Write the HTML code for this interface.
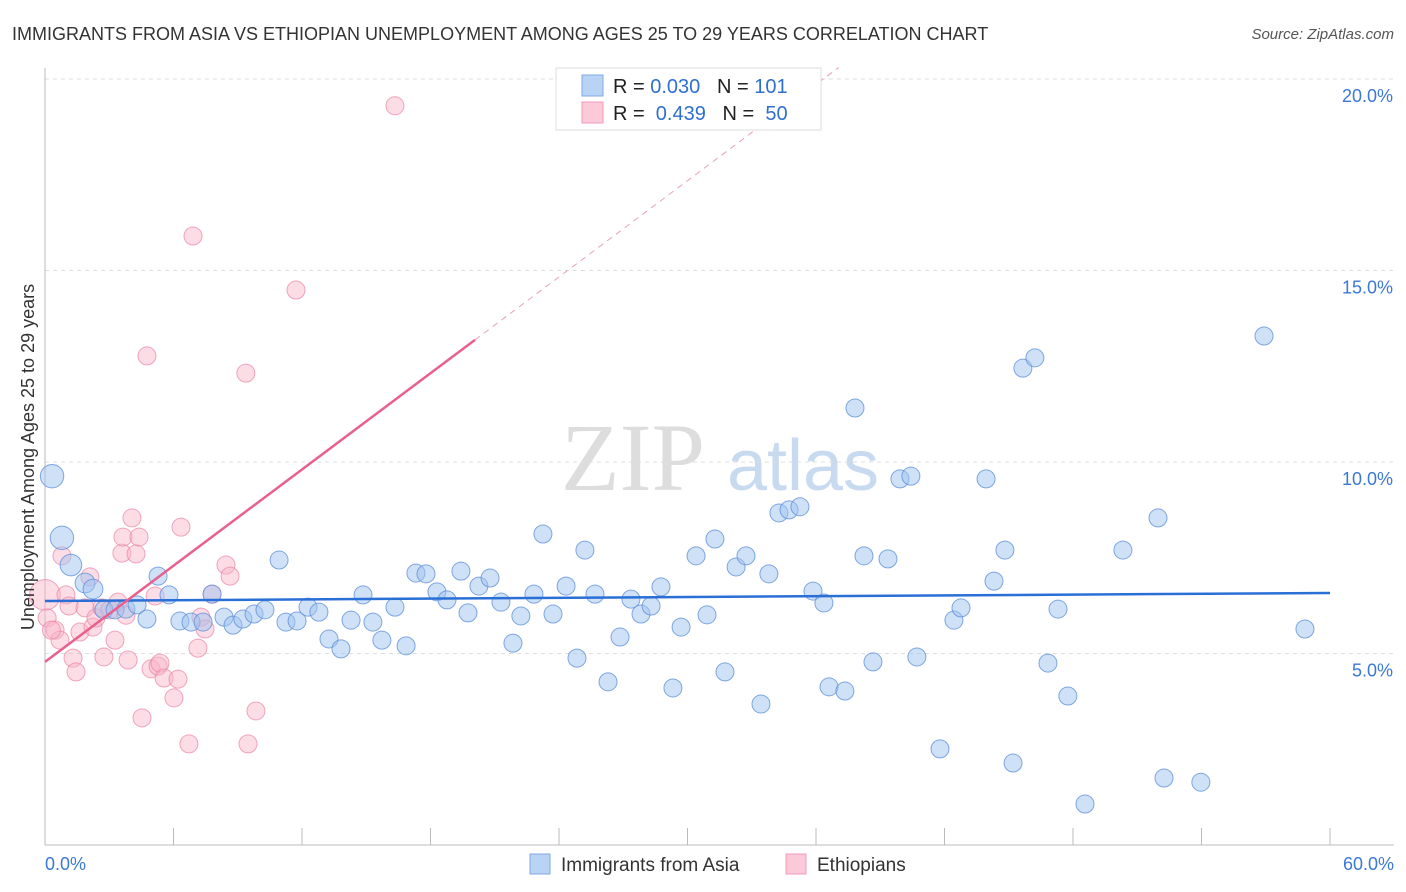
<!DOCTYPE html>
<html><head><meta charset="utf-8"><style>
body{margin:0;background:#fff;font-family:"Liberation Sans",sans-serif;}
svg{display:block}
</style></head><body>
<svg id="chart" width="1406" height="892">
<text x="12" y="40" font-size="18" fill="#333">IMMIGRANTS FROM ASIA VS ETHIOPIAN UNEMPLOYMENT AMONG AGES 25 TO 29 YEARS CORRELATION CHART</text>
<text x="1394" y="39" font-size="15" fill="#555" font-style="italic" text-anchor="end">Source: ZipAtlas.com</text>
<g>
<text x="633" y="490" font-size="96" font-family="Liberation Serif,serif" fill="#ddd" text-anchor="middle">ZIP</text>
<text x="803" y="490" font-size="72" fill="#c8daf0" text-anchor="middle">atlas</text>
</g>
<g id="grid"></g><g id="axes"></g><g id="pts"></g><g id="lines"></g>
<text transform="translate(34,457) rotate(-90)" font-size="18" fill="#333" text-anchor="middle">Unemployment Among Ages 25 to 29 years</text>
<g>
<rect x="556" y="68" width="265" height="62" fill="#fff" stroke="#ddd"/>
<rect x="582" y="75" width="21" height="21" fill="#b9d3f5" stroke="#7ea8e4"/>
<rect x="582" y="102" width="21" height="21" fill="#fcc9d8" stroke="#f09ab5"/>
<text x="613" y="93" font-size="20" fill="#222">R = <tspan fill="#2f6fd0">0.030</tspan>&#160;&#160;&#160;N = <tspan fill="#2f6fd0">101</tspan></text>
<text x="613" y="120" font-size="20" fill="#222">R = &#160;<tspan fill="#2f6fd0">0.439</tspan>&#160;&#160;&#160;N = &#160;<tspan fill="#2f6fd0">50</tspan></text>
</g>
<g>
<rect x="530" y="854" width="20" height="20" fill="#b9d3f5" stroke="#7ea8e4"/>
<text x="561" y="871" font-size="19" fill="#333">Immigrants from Asia</text>
<rect x="786" y="854" width="20" height="20" fill="#fcc9d8" stroke="#f09ab5"/>
<text x="817" y="871" font-size="19" fill="#333">Ethiopians</text>
</g>
</svg>
<script>
const xTicks=[0,6,12,18,24,30,36,42,48,54,60];
const yTicks=[5,10,15,20];
const yTickLabels=["5.0%","10.0%","15.0%","20.0%"];
const xEndLabels=["0.0%","60.0%"];
const asiaX=[0.33,0.79,1.21,1.87,2.24,2.75,3.27,3.78,4.30,4.76,5.28,5.79,6.30,6.82,7.38,7.80,8.36,8.78,9.24,9.76,10.27,10.93,11.25,11.77,12.28,12.79,13.26,13.82,14.29,14.85,15.31,15.73,16.34,16.86,17.32,17.79,18.30,18.77,19.42,19.75,20.26,20.78,21.29,21.85,22.22,22.83,23.25,23.72,24.33,24.84,25.21,25.68,26.29,26.85,27.36,27.83,28.30,28.76,29.32,29.70,30.40,30.91,31.28,31.75,32.27,32.73,33.43,33.80,34.27,34.74,35.25,35.86,36.37,36.61,37.35,37.82,38.24,38.66,39.36,39.92,40.43,40.71,41.79,42.44,42.77,43.94,44.31,44.82,45.20,45.66,46.22,46.83,47.30,47.76,48.56,50.33,51.97,52.25,53.97,56.92,58.83];
const asiaY=[9.63,8.02,7.31,6.84,6.68,6.14,6.14,6.16,6.27,5.90,7.02,6.53,5.85,5.82,5.82,6.55,5.95,5.74,5.90,6.03,6.14,7.44,5.82,5.85,6.21,6.08,5.38,5.12,5.87,6.53,5.82,5.35,6.21,5.20,7.10,7.08,6.61,6.40,7.15,6.06,6.76,6.97,6.34,5.27,5.98,6.55,8.12,6.03,6.76,4.88,7.70,6.55,4.26,5.43,6.42,6.03,6.24,6.74,4.10,5.69,7.55,6.01,7.99,4.52,7.26,7.55,3.68,7.08,8.67,8.75,8.83,6.63,6.32,4.13,4.02,11.41,7.55,4.78,7.47,9.56,9.63,4.91,2.51,5.87,6.19,9.56,6.89,7.70,2.14,12.45,12.72,4.75,6.16,3.89,1.07,7.70,8.54,1.75,1.64,13.29,5.64];
const asiaSize=[1.3,1.3,1.2,1.1,1.1];
const ethX=[0,0.10,0.47,0.79,0.98,1.12,1.31,1.45,1.63,1.87,2.10,2.24,2.38,2.66,2.75,3.03,3.27,3.41,3.59,3.64,3.78,3.88,4.06,4.25,4.39,4.53,4.76,4.95,5.14,5.28,5.37,5.56,6.02,6.21,6.35,6.72,6.91,7.14,7.28,7.47,7.80,8.45,8.64,9.38,9.48,9.85,11.72,16.34,0.70,0.30];
const ethY=[6.53,5.93,5.61,7.55,6.53,6.24,4.88,4.52,5.56,6.19,7.00,5.69,5.93,6.19,4.91,6.14,5.35,6.34,7.62,8.04,6.00,4.83,8.54,7.60,8.04,3.32,12.77,4.60,6.50,4.67,4.75,4.36,3.84,4.33,8.30,2.64,15.90,5.14,5.95,5.64,6.55,7.31,7.02,12.32,2.64,3.50,14.49,19.30,5.35,5.61];
const ethSize=[1.7];
const asiaTrend=[6.37,6.58];
const ethTrend=[4.78,13.19];
const NS="http://www.w3.org/2000/svg";
const X=v=>45+v*1285/60, Y=v=>845-v*191.5/5;
function mk(tag,attrs,parent){const e=document.createElementNS(NS,tag);for(const k in attrs)e.setAttribute(k,attrs[k]);document.getElementById(parent).appendChild(e);return e;}
yTicks.forEach((t,i)=>{
 const l=mk('line',{x1:45,x2:1394,y1:Y(t),y2:Y(t),stroke:'#ddd','stroke-dasharray':'4,4'},'grid');
 
 
 const tx=mk('text',{x:1393,y:Y(t)+23,'font-size':18,fill:'#3b78d8','text-anchor':'end'},'axes');
 tx.textContent=yTickLabels[i];
 
 
});
const ax=mk('line',{x1:45,x2:45,y1:68,y2:845,stroke:'#bbb'},'axes');


const bx=mk('line',{x1:45,x2:1394,y1:845,y2:845,stroke:'#bbb'},'axes');


xTicks.forEach(t=>{
 const l=mk('line',{x1:X(t),x2:X(t),y1:828,y2:845,stroke:'#bbb'},'axes');
 
 
});
[[0,'start',45],[60,'end',1394]].forEach((a,i)=>{
 const tx=mk('text',{x:a[2],y:870,'font-size':18,fill:'#3b78d8','text-anchor':a[1]},'axes');
 tx.textContent=xEndLabels[i];
 
 
});
ethX.forEach((v,i)=>{
 const c=mk('circle',{cx:X(v),cy:Y(ethY[i]),r:9*(ethSize[i]||1),fill:'rgba(248,180,200,0.45)',stroke:'rgba(235,130,165,0.7)','stroke-width':1},'pts');
 
 
});
asiaX.forEach((v,i)=>{
 const c=mk('circle',{cx:X(v),cy:Y(asiaY[i]),r:9*(asiaSize[i]||1),fill:'rgba(160,196,240,0.5)',stroke:'rgba(90,140,215,0.75)','stroke-width':1},'pts');
 
 
});
const bl=mk('line',{x1:X(0),y1:Y(asiaTrend[0]),x2:X(60),y2:Y(asiaTrend[1]),stroke:'#2a6fd6','stroke-width':2.5},'lines');


const slope=(ethTrend[1]-ethTrend[0])/20.08;
const pl=mk('line',{x1:X(0),y1:Y(ethTrend[0]),x2:X(20.08),y2:Y(ethTrend[1]),stroke:'#e8608c','stroke-width':2.5},'lines');


const xe=(20.3-ethTrend[0])/slope;
const pd=mk('line',{x1:X(20.08),y1:Y(ethTrend[1]),x2:X(xe),y2:Y(20.3),stroke:'#e8a0b8','stroke-width':1,'stroke-dasharray':'6,5'},'lines');


</script>
</body></html>
